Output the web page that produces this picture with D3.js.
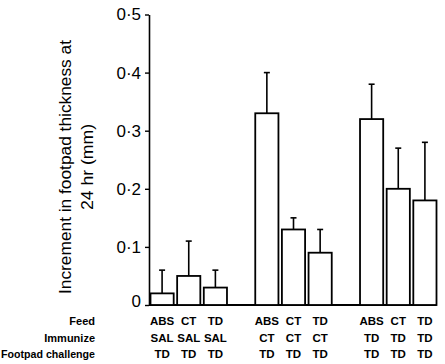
<!DOCTYPE html>
<html>
<head>
<meta charset="utf-8">
<script src="https://cdn.jsdelivr.net/npm/d3@7"></script>
<style>
  body { margin: 0; background: #fff; }
  svg { display: block; }
</style>
</head>
<body>
<div class="canvas"></div>
<script>
// data
const groups = ['SAL', 'CT', 'TD'];
const feed = ['ABS', 'CT', 'TD'];
const challenge = 'TD';
const means = [
  [0.02, 0.05, 0.03],
  [0.33, 0.13, 0.09],
  [0.32, 0.20, 0.18]
];
const errTops = [
  [0.06, 0.11, 0.06],
  [0.40, 0.15, 0.13],
  [0.38, 0.27, 0.28]
];
const yTicks = [0, 0.1, 0.2, 0.3, 0.4, 0.5];
const rowNames = ['Feed', 'Immunize', 'Footpad challenge'];

const W = 445, H = 364;
const font = 'Liberation Sans, Arial, sans-serif';
const svg = d3.select('.canvas').append('svg').attr('width', W).attr('height', H);

const y = d3.scaleLinear().domain([0, 0.5]).range([305, 14.5]);
const xg = d3.scaleBand().domain(d3.range(3)).range([150.5, 436.5]).paddingInner(0.27).paddingOuter(0).align(0);
const xb = d3.scaleBand().domain(d3.range(3)).range([0, xg.bandwidth()]).paddingInner(0.13).paddingOuter(0);

const fmt = d => d === 0 ? '0' : d3.format('.1f')(d).replace('.', '·');

// y axis
const yAxis = d3.axisLeft(y).tickValues(yTicks).tickSize(4).tickSizeOuter(0).tickFormat(fmt);
const ag = svg.append('g').attr('transform', 'translate(149,0)').call(yAxis);
ag.select('.domain').attr('stroke', '#000').attr('stroke-width', 1.6);
ag.selectAll('.tick line').attr('stroke', '#000').attr('stroke-width', 1.4);
ag.selectAll('.tick text')
  .attr('x', -8)
  .attr('dy', d => d === 0 ? '0.1em' : '0.32em')
  .style('font-family', font)
  .style('font-size', '17px')
  .attr('fill', '#000');

// baseline
svg.append('line')
  .attr('x1', 149).attr('x2', xg(2) + xg.bandwidth())
  .attr('y1', y(0)).attr('y2', y(0))
  .attr('stroke', '#000').attr('stroke-width', 1.8);

// y title
const yt = svg.append('text')
  .attr('transform', 'translate(0,' + 167 + ') rotate(-90)')
  .attr('text-anchor', 'middle')
  .style('font-family', font)
  .style('font-size', '16px');
yt.append('tspan').attr('x', 0).attr('y', 71)
  .attr('textLength', 254).attr('lengthAdjust', 'spacingAndGlyphs')
  .text('Increment in footpad thickness at');
yt.append('tspan').attr('x', 0).attr('y', 93)
  .attr('textLength', 86).attr('lengthAdjust', 'spacingAndGlyphs')
  .text('24 hr (mm)');

// bars + error bars
groups.forEach(function(g, gi){
  const gx = xg(gi);
  const gEl = svg.append('g').attr('transform', 'translate(' + gx + ',0)');
  means[gi].forEach(function(v, bi){
    const bx = xb(bi), bw = xb.bandwidth(), cx = bx + bw / 2;
    gEl.append('line')
      .attr('x1', cx).attr('x2', cx)
      .attr('y1', y(v)).attr('y2', y(errTops[gi][bi]))
      .attr('stroke', '#000').attr('stroke-width', 1.6);
    gEl.append('line')
      .attr('x1', cx - 3).attr('x2', cx + 3)
      .attr('y1', y(errTops[gi][bi])).attr('y2', y(errTops[gi][bi]))
      .attr('stroke', '#000').attr('stroke-width', 1.6);
    gEl.append('rect')
      .attr('x', bx).attr('y', y(v))
      .attr('width', bw).attr('height', y(0) - y(v))
      .attr('fill', '#fff').attr('stroke', '#000').attr('stroke-width', 1.8);

    const rows = [feed[bi], g, challenge];
    rows.forEach(function(t, ri){
      gEl.append('text')
        .attr('x', cx).attr('y', 325 + ri * 16.5)
        .attr('text-anchor', 'middle')
        .style('font-family', font)
        .style('font-weight', 'bold')
        .style('font-size', '11.5px')
        .text(t);
    });
  });
});

// row names
rowNames.forEach(function(t, ri){
  const tx = svg.append('text')
    .attr('x', 95).attr('y', 325 + ri * 16.5)
    .attr('text-anchor', 'end')
    .style('font-family', font)
    .style('font-weight', 'bold')
    .style('font-size', '11px')
    .text(t);
  if (ri === 2) tx.attr('textLength', 94).attr('lengthAdjust', 'spacingAndGlyphs');
});
</script>
</body>
</html>
